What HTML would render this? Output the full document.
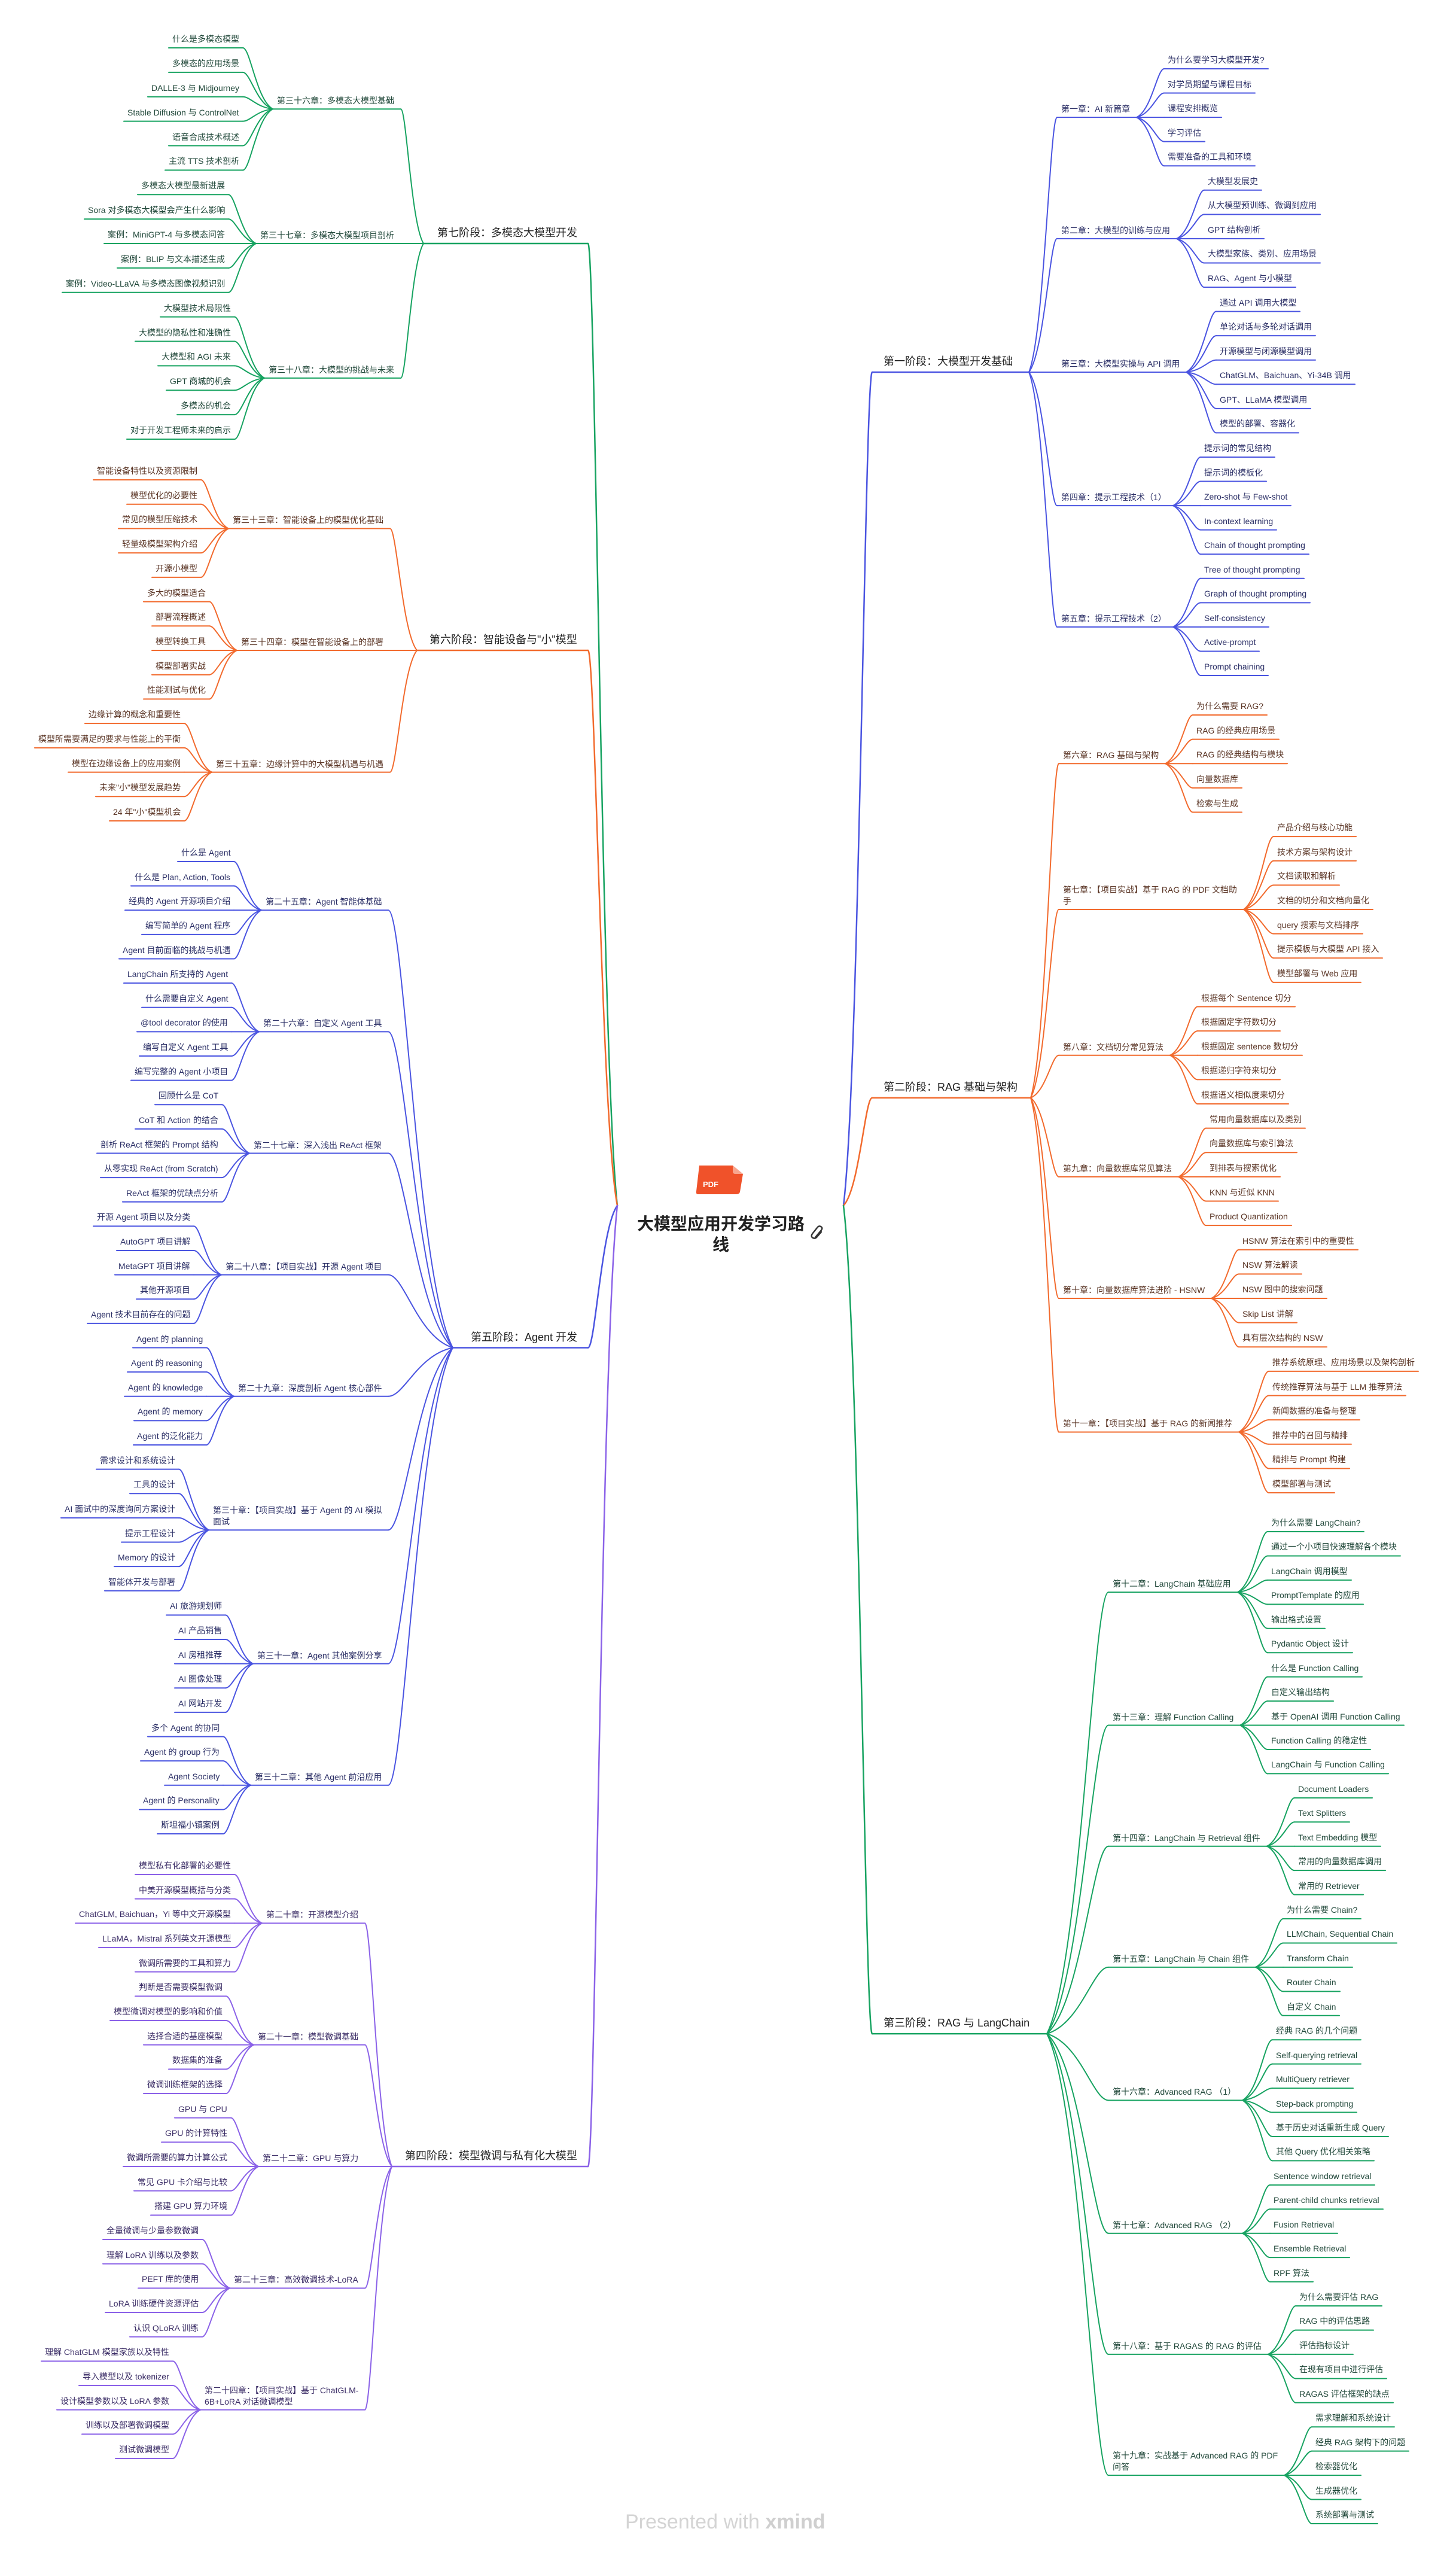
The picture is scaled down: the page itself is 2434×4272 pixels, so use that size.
<!DOCTYPE html>
<html><head><meta charset="utf-8">
<style>
html,body{margin:0;padding:0;background:#fff;}
body{width:2434px;height:4272px;position:relative;overflow:hidden;font-family:"Liberation Sans","Noto Sans CJK SC",sans-serif;}
.t{position:absolute;white-space:nowrap;font-size:14px;line-height:19px;}
.st{position:absolute;white-space:nowrap;font-size:18px;line-height:24px;color:#222;}
svg{position:absolute;left:0;top:0;}
</style></head><body>
<svg id="g" width="2434" height="4272" viewBox="0 0 2434 4272"></svg>
<div style="position:absolute;left:1163px;top:1948px;width:80px;height:48px;">
<svg width="80" height="48" viewBox="0 0 80 48"><path d="M6,0 H62 L79,14 L74,44 Q73,48 68,48 H4 Q0,48 1,43 Z" fill="#f0522a"/><path d="M62,0 L79,14 H66 Q62,14 62,10 Z" fill="#f8a58e"/><text x="12" y="36" font-family="Liberation Sans,sans-serif" font-size="13" font-weight="bold" fill="#fff">PDF</text></svg></div>
<div style="position:absolute;left:1040px;top:2028px;width:330px;text-align:center;font-size:28px;line-height:35px;font-weight:bold;color:#222;font-family:'Liberation Sans','Noto Sans CJK SC',sans-serif;">大模型应用开发学习路<br>线</div>
<svg style="left:1354px;top:2046px" width="26" height="28" viewBox="0 0 26 28"><path d="M9,22 L19,10 Q22,6 18,4 Q15,2 12,6 L4,16 Q1,21 5,23 Q9,25 12,21 L19,13" fill="none" stroke="#333" stroke-width="2.4" stroke-linecap="round"/></svg>
<div style="position:absolute;left:1045px;top:4192px;font-size:34px;line-height:46px;color:#d4d4d4;white-space:nowrap;">Presented with <b style="color:#cfcfcf">xmind</b></div>
<script>
const C={b:['#4a54e1','#2b2f66'],o:['#f26a2d','#5a3424'],g:['#17a361','#21483a'],p:['#8b62e8','#3b2d66']};
const R=[
{t:'第一阶段：大模型开发基础',c:'b',f:100,l:1114,sx:[1458,1720],cx:1767,ch:[
['第一章：AI 新篇章',['为什么要学习大模型开发?','对学员期望与课程目标','课程安排概览','学习评估','需要准备的工具和环境']],
['第二章：大模型的训练与应用',['大模型发展史','从大模型预训练、微调到应用','GPT 结构剖析','大模型家族、类别、应用场景','RAG、Agent 与小模型']],
['第三章：大模型实操与 API 调用',['通过 API 调用大模型','单论对话与多轮对话调用','开源模型与闭源模型调用','ChatGLM、Baichuan、Yi-34B 调用','GPT、LLaMA 模型调用','模型的部署、容器化']],
['第四章：提示工程技术（1）',['提示词的常见结构','提示词的模板化','Zero-shot 与 Few-shot','In-context learning','Chain of thought prompting']],
['第五章：提示工程技术（2）',['Tree of thought prompting','Graph of thought prompting','Self-consistency','Active-prompt','Prompt chaining']]]},
{t:'第二阶段：RAG 基础与架构',c:'o',f:1180,l:2480,sx:[1458,1723],cx:1770,ch:[
['第六章：RAG 基础与架构',['为什么需要 RAG?','RAG 的经典应用场景','RAG 的经典结构与模块','向量数据库','检索与生成']],
['第七章：【项目实战】基于 RAG 的 PDF 文档助<br>手',['产品介绍与核心功能','技术方案与架构设计','文档读取和解析','文档的切分和文档向量化','query 搜索与文档排序','提示模板与大模型 API 接入','模型部署与 Web 应用']],
['第八章：文档切分常见算法',['根据每个 Sentence 切分','根据固定字符数切分','根据固定 sentence 数切分','根据递归字符来切分','根据语义相似度来切分']],
['第九章：向量数据库常见算法',['常用向量数据库以及类别','向量数据库与索引算法','到排表与搜索优化','KNN 与近似 KNN','Product Quantization']],
['第十章：向量数据库算法进阶 - HSNW',['HSNW 算法在索引中的重要性','NSW 算法解读','NSW 图中的搜索问题','Skip List 讲解','具有层次结构的 NSW']],
['第十一章：【项目实战】基于 RAG 的新闻推荐',['推荐系统原理、应用场景以及架构剖析','传统推荐算法与基于 LLM 推荐算法','新闻数据的准备与整理','推荐中的召回与精排','精排与 Prompt 构建','模型部署与测试']]]},
{t:'第三阶段：RAG 与 LangChain',c:'g',f:2545,l:4203,sx:[1458,1750],cx:1853,ch:[
['第十二章：LangChain 基础应用',['为什么需要 LangChain?','通过一个小项目快速理解各个模块','LangChain 调用模型','PromptTemplate 的应用','输出格式设置','Pydantic Object 设计']],
['第十三章：理解 Function Calling',['什么是 Function Calling','自定义输出结构','基于 OpenAI 调用 Function Calling','Function Calling 的稳定性','LangChain 与 Function Calling']],
['第十四章：LangChain 与 Retrieval 组件',['Document Loaders','Text Splitters','Text Embedding 模型','常用的向量数据库调用','常用的 Retriever']],
['第十五章：LangChain 与 Chain 组件',['为什么需要 Chain?','LLMChain, Sequential Chain','Transform Chain','Router Chain','自定义 Chain']],
['第十六章：Advanced RAG （1）',['经典 RAG 的几个问题','Self-querying retrieval','MultiQuery retriever','Step-back prompting','基于历史对话重新生成 Query','其他 Query 优化相关策略']],
['第十七章：Advanced RAG （2）',['Sentence window retrieval','Parent-child chunks retrieval','Fusion Retrieval','Ensemble Retrieval','RPF 算法']],
['第十八章：基于 RAGAS 的 RAG 的评估',['为什么需要评估 RAG','RAG 中的评估思路','评估指标设计','在现有项目中进行评估','RAGAS 评估框架的缺点']],
['第十九章：实战基于 Advanced RAG 的 PDF<br>问答',['需求理解和系统设计','经典 RAG 架构下的问题','检索器优化','生成器优化','系统部署与测试']]]}];
const L=[
{t:'第七阶段：多模态大模型开发',c:'g',f:65,l:719,sx:[708,983],cx:670,ch:[
['第三十六章：多模态大模型基础',['什么是多模态模型','多模态的应用场景','DALLE-3 与 Midjourney','Stable Diffusion 与 ControlNet','语音合成技术概述','主流 TTS 技术剖析']],
['第三十七章：多模态大模型项目剖析',['多模态大模型最新进展','Sora 对多模态大模型会产生什么影响','案例：MiniGPT-4 与多模态问答','案例：BLIP 与文本描述生成','案例：Video-LLaVA 与多模态图像视频识别']],
['第三十八章：大模型的挑战与未来',['大模型技术局限性','大模型的隐私性和准确性','大模型和 AGI 未来','GPT 商城的机会','多模态的机会','对于开发工程师未来的启示']]]},
{t:'第六阶段：智能设备与"小"模型',c:'o',f:787,l:1357,sx:[697,983],cx:652,ch:[
['第三十三章：智能设备上的模型优化基础',['智能设备特性以及资源限制','模型优化的必要性','常见的模型压缩技术','轻量级模型架构介绍','开源小模型']],
['第三十四章：模型在智能设备上的部署',['多大的模型适合','部署流程概述','模型转换工具','模型部署实战','性能测试与优化']],
['第三十五章：边缘计算中的大模型机遇与机遇',['边缘计算的概念和重要性','模型所需要满足的要求与性能上的平衡','模型在边缘设备上的应用案例','未来"小"模型发展趋势','24 年"小"模型机会']]]},
{t:'第五阶段：Agent 开发',c:'b',f:1425,l:3050,sx:[757,983],cx:649,ch:[
['第二十五章：Agent 智能体基础',['什么是 Agent','什么是 Plan, Action, Tools','经典的 Agent 开源项目介绍','编写简单的 Agent 程序','Agent 目前面临的挑战与机遇']],
['第二十六章：自定义 Agent 工具',['LangChain 所支持的 Agent','什么需要自定义 Agent','@tool decorator 的使用','编写自定义 Agent 工具','编写完整的 Agent 小项目']],
['第二十七章：深入浅出 ReAct 框架',['回顾什么是 CoT','CoT 和 Action 的结合','剖析 ReAct 框架的 Prompt 结构','从零实现 ReAct (from Scratch)','ReAct 框架的优缺点分析']],
['第二十八章：【项目实战】开源 Agent 项目',['开源 Agent 项目以及分类','AutoGPT 项目讲解','MetaGPT 项目讲解','其他开源项目','Agent 技术目前存在的问题']],
['第二十九章：深度剖析 Agent 核心部件',['Agent 的 planning','Agent 的 reasoning','Agent 的 knowledge','Agent 的 memory','Agent 的泛化能力']],
['第三十章：【项目实战】基于 Agent 的 AI 模拟<br>面试',['需求设计和系统设计','工具的设计','AI 面试中的深度询问方案设计','提示工程设计','Memory 的设计','智能体开发与部署']],
['第三十一章：Agent 其他案例分享',['AI 旅游规划师','AI 产品销售','AI 房租推荐','AI 图像处理','AI 网站开发']],
['第三十二章：其他 Agent 前沿应用',['多个 Agent 的协同','Agent 的 group 行为','Agent Society','Agent 的 Personality','斯坦福小镇案例']]]},
{t:'第四阶段：模型微调与私有化大模型',c:'p',f:3118,l:4094,sx:[655,983],cx:610,ch:[
['第二十章：开源模型介绍',['模型私有化部署的必要性','中美开源模型概括与分类','ChatGLM, Baichuan，Yi 等中文开源模型','LLaMA，Mistral 系列英文开源模型','微调所需要的工具和算力']],
['第二十一章：模型微调基础',['判断是否需要模型微调','模型微调对模型的影响和价值','选择合适的基座模型','数据集的准备','微调训练框架的选择']],
['第二十二章：GPU 与算力',['GPU 与 CPU','GPU 的计算特性','微调所需要的算力计算公式','常见 GPU 卡介绍与比较','搭建 GPU 算力环境']],
['第二十三章：高效微调技术-LoRA',['全量微调与少量参数微调','理解 LoRA 训练以及参数','PEFT 库的使用','LoRA 训练硬件资源评估','认识 QLoRA 训练']],
['第二十四章：【项目实战】基于 ChatGLM-<br>6B+LoRA 对话微调模型',['理解 ChatGLM 模型家族以及特性','导入模型以及 tokenizer','设计模型参数以及 LoRA 参数','训练以及部署微调模型','测试微调模型']]]}];
let P='';
function cv(x0,y0,x1,y1){const dx=x1-x0,dy=y1-y0;return `M${x0},${y0} C${x0+0.55*dx},${y0+0.15*dy} ${x0+0.75*dx},${y1} ${x1},${y1}`;}
function path(d,col,w){P+=`<path d="${d}" fill="none" stroke="${col}" stroke-width="${w}" stroke-linecap="round"/>`;}
function txt(html,cls,col){const d=document.createElement('div');d.className=cls;d.innerHTML=html;d.style.color=col;document.body.appendChild(d);return d;}
function place(d,x,bottom,right){const h=d.offsetHeight,w=d.offsetWidth;d.style.top=(bottom-h)+'px';d.style.left=(right?x-w:x)+'px';return w;}
function side(S,isR,root){
 S.forEach(s=>{
  const [lc,tc]=C[s.c];
  const n=s.ch.reduce((a,c)=>a+c[1].length,0);
  const pitch=(s.l-s.f)/(n-1);
  let i=0;const chY=[];
  s.ch.forEach(ch=>{
   const ly=[];ch[1].forEach(()=>{ly.push(s.f+i*pitch+15);i++;});
   const cy=(ly[0]+ly[ly.length-1])/2;chY.push(cy);
   const cd=txt(ch[0],'t',tc);const cw=cd.offsetWidth;
   let jx,cx0,cx1;
   if(isR){cx0=s.cx;cx1=s.cx+cw+18;place(cd,cx0+7,cy-4,false);jx=cx1;}
   else{cx1=s.cx;cx0=s.cx-cw-18;place(cd,cx1-11,cy-4,true);jx=cx0;}
   path(`M${cx0},${cy} H${cx1}`,lc,2);
   const g=ch[1].length>=6?50:46;
   ch[1].forEach((lt,k)=>{
    const y=ly[k];const d=txt(lt,'t',tc);const w=d.offsetWidth;
    if(isR){const a=jx+g;place(d,a+6,y-5,false);path(`M${a},${y} H${a+w+12}`,lc,2);path(cv(jx,cy,a,y),lc,2);}
    else{const a=jx-g;place(d,a-6,y-5,true);path(`M${a},${y} H${a-w-12}`,lc,2);path(cv(jx,cy,a,y),lc,2);}
   });
  });
  const sy=(chY[0]+chY[chY.length-1])/2;
  const sd=txt(s.t,'st','#222');
  if(isR){place(sd,1477,sy-6,false);path(`M${s.sx[0]},${sy} H${s.sx[1]}`,lc,2.5);path(cv(root.x,root.y,s.sx[0],sy),lc,2.5);
   chY.forEach(cy=>path(cv(s.sx[1],sy,s.cx,cy),lc,2));}
  else{place(sd,965,sy-6,true);path(`M${s.sx[1]},${sy} H${s.sx[0]}`,lc,2.5);path(cv(root.x,root.y,s.sx[1],sy),lc,2.5);
   chY.forEach(cy=>path(cv(s.sx[0],sy,s.cx,cy),lc,2));}
 });
}
side(R,true,{x:1410,y:2015});
side(L,false,{x:1032,y:2015});
document.getElementById('g').innerHTML=P;
</script>
</body></html>
